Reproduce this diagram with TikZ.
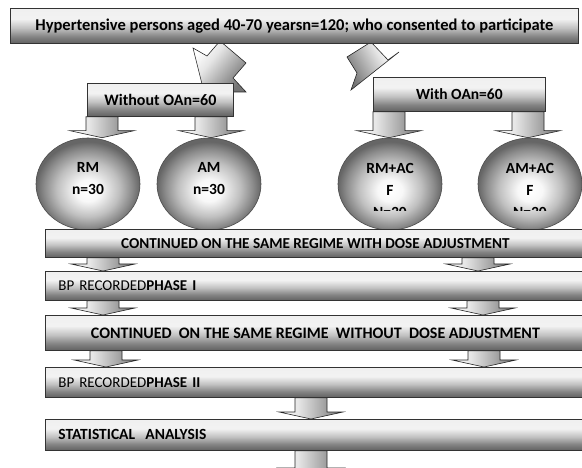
\documentclass[tikz,border=0pt]{standalone}
\usepackage{fontspec}
\setmainfont{Carlito}
\usetikzlibrary{shapes.geometric}
\pgfdeclarelayer{bg}
\pgfsetlayers{bg,main}
\pgfdeclareverticalshading{boxshade}{100bp}{color(0bp)=(black!62); color(25bp)=(black!62); color(35bp)=(black!48); color(47bp)=(black!24); color(60bp)=(black!5); color(75bp)=(black!6); color(100bp)=(black!6)}
\pgfdeclareradialshading{ballshade}{\pgfpoint{0bp}{-4bp}}{color(0bp)=(white); color(6bp)=(black!3); color(15bp)=(black!25); color(21bp)=(black!45); color(25bp)=(black!60); color(50bp)=(black!60)}
\pgfdeclarehorizontalshading{arrowshade}{100bp}{color(0bp)=(white); color(25bp)=(white); color(40bp)=(black!10); color(75bp)=(black!55); color(100bp)=(black!55)}
\newcommand\blkarrow[3]{%
  \draw[barrow] ([xshift=-16pt]#1 |- #2) -- ([xshift=16pt]#1 |- #2)
    -- ([xshift=16pt,yshift=7pt]#1 |- #3) -- ([xshift=32pt,yshift=7pt]#1 |- #3)
    -- (#1 |- #3) -- ([xshift=-32pt,yshift=7pt]#1 |- #3)
    -- ([xshift=-16pt,yshift=7pt]#1 |- #3) -- cycle;}
\begin{document}
\begin{tikzpicture}[x=1pt,y=-1pt,
  box/.style={draw=black!80, line width=0.8pt, shade, shading=boxshade, rectangle, inner sep=0pt},
  wide/.style={box, minimum width=540pt, anchor=north west},
  ball/.style={ellipse, draw=black!70, line width=0.6pt, shade, shading=ballshade,
    minimum width=104pt, minimum height=92pt, inner sep=0pt},
  ctext/.style={font=\fontsize{15.5}{22}\bfseries\selectfont, align=center, inner sep=0pt},
  barrow/.style={draw=black!85, line width=0.6pt, shade, shading=arrowshade},
  darrow/.style={draw=black!85, line width=0.6pt, shade, shading=arrowshade},
]
\useasboundingbox (0,0) rectangle (582,468);

% top boxes
\node[box, minimum width=568pt, minimum height=35pt, anchor=north west,
  font=\fontsize{16.5}{18}\bfseries\selectfont] (top) at (10,8)
  {Hypertensive persons aged 40-70 yearsn=120; who consented to participate};
\node[box, minimum width=146pt, minimum height=33pt, anchor=north west,
  font=\fontsize{16}{18}\bfseries\selectfont] (woa) at (87,83) {Without OAn=60};
\node[box, minimum width=172pt, minimum height=34pt, anchor=north west,
  font=\fontsize{15.5}{18}\bfseries\selectfont] (wa) at (373,77) {With OAn=60};

% circles
\node[ball] (rm) at (88,184) {};
\node[ball] (am) at (209,184) {};
\node[ball] (rmacf) at (390,184) {};
\node[ball] (amacf) at (530,184) {};
\node[ctext] (rmt) at (88,179) {RM\\n=30};
\node[ctext] (amt) at (209,179) {AM\\n=30};
\begin{scope}
  \clip (300,140) rectangle (590,211);
  \node[ctext] (rmacft) at (390,190) {RM+AC\\F\\N=30};
  \node[ctext] (amacft) at (530,190) {AM+AC\\F\\N=30};
\end{scope}

% wide boxes
\node[wide, minimum height=28pt, font=\fontsize{15.2}{17}\bfseries\selectfont] (c1) at (45,229)
  {CONTINUED ON THE SAME REGIME WITH DOSE ADJUSTMENT};
\node[wide, minimum height=29pt, text width=514pt, inner xsep=13pt, align=left,
  font=\fontsize{15}{17}\selectfont] (b1) at (45,271)
  {BP RECORDED\textbf{PHASE I}};
\node[wide, minimum height=35pt, font=\fontsize{16}{18}\bfseries\selectfont] (c2) at (45,315)
  {CONTINUED\ \ ON THE SAME REGIME\ \ WITHOUT\ \ DOSE ADJUSTMENT};
\node[wide, minimum height=30pt, text width=514pt, inner xsep=13pt, align=left,
  font=\fontsize{15}{17}\selectfont] (b2) at (45,367)
  {BP RECORDED\textbf{PHASE II}};
\node[wide, minimum height=31pt, text width=514pt, inner xsep=12pt, align=left,
  font=\fontsize{15.5}{17}\bfseries\selectfont] (stat) at (45,419)
  {STATISTICAL\ \ ANALYSIS};

% column coordinates
\coordinate (k1) at (102,0);
\coordinate (k2) at (211,0);
\coordinate (k3) at (389,0);
\coordinate (k4) at (528,0);
\coordinate (k5) at (103,0);
\coordinate (k6) at (478,0);
\coordinate (k7) at (483,0);
\coordinate (k8) at (106,0);
\coordinate (k9) at (484,0);
\coordinate (k10) at (311,0);
\coordinate (endc) at (311,475);

\begin{pgfonlayer}{bg}
  \fill[white] (0,0) rectangle (582,468);
  % diagonal arrows from the top box
  \draw[darrow, shading angle=-40] (220,41) -- (246,63) -- (233,78) -- (246,92) -- (204,92)
    -- (193,48) -- (207,56) -- cycle;
  \draw[darrow, shading angle=210] (371,42) -- (388,60) -- (399,52) -- (351,90) -- (357,73)
    -- (347,57) -- cycle;
  % block arrows
  \blkarrow{k1}{woa.south}{rm.north}
  \blkarrow{k2}{woa.south}{am.north}
  \blkarrow{k3}{wa.south}{rmacf.north}
  \blkarrow{k4}{wa.south}{amacf.north}
  \blkarrow{k5}{c1.south}{b1.north}
  \blkarrow{k6}{c1.south}{b1.north}
  \blkarrow{k5}{b1.south}{c2.north}
  \blkarrow{k7}{b1.south}{c2.north}
  \blkarrow{k8}{c2.south}{b2.north}
  \blkarrow{k9}{c2.south}{b2.north}
  \blkarrow{k10}{b2.south}{stat.north}
  \blkarrow{k10}{stat.south}{endc}
\end{pgfonlayer}
\end{tikzpicture}
\end{document}
